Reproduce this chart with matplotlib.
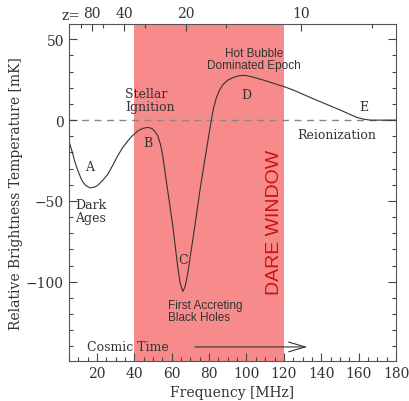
import numpy as np
import matplotlib
matplotlib.use("Agg")
import matplotlib.pyplot as plt
from matplotlib.ticker import MultipleLocator, FixedLocator

# Brightness temperature curve (MHz, mK)
freq = [4.6, 5.6, 6.9, 8.1, 9.6, 11.0, 12.2, 14.0, 16.4, 18.5, 20.3, 23.0,
        25.7, 28.4, 31.0, 33.7, 36.4, 39.1, 41.8, 44.5, 47.1, 49.3, 51.0,
        52.5, 54.0, 55.2, 57.0, 58.8, 60.6, 62.0, 63.2, 64.5, 65.9, 67.2,
        68.6, 69.9, 71.3, 73.1, 74.9, 76.7, 78.5, 79.9, 81.2, 82.4, 83.9,
        85.6, 87.5, 90.1, 92.8, 95.5, 98.1, 100.0, 103.5, 108.9, 114.3,
        119.6, 125.0, 130.4, 135.7, 141.1, 146.5, 151.8, 155.4, 159.0,
        162.6, 166.2, 180.0]
temp = [-10.9, -15.1, -20.2, -25.4, -30.6, -34.7, -37.8, -40.5, -41.9, -41.5,
        -40.5, -37.4, -33.7, -28.1, -22.3, -17.1, -13.0, -9.5, -6.8, -5.1,
        -4.5, -5.1, -7.0, -9.5, -15.0, -22.0, -36.8, -51.2, -65.7, -79.1,
        -90.5, -100.8, -106.0, -102.9, -94.6, -84.3, -74.0, -59.5, -45.0,
        -31.6, -19.0, -9.0, 0.0, 7.5, 13.9, 18.6, 22.1, 24.8, 26.3, 27.3,
        27.7, 27.5, 26.6, 24.8, 22.8, 20.9, 18.6, 15.9, 13.2, 10.6, 8.0,
        5.4, 3.5, 1.7, 0.6, 0.0, 0.0]

window = [40, 120]
z_major = [80, 40, 20, 10]
z_minor = [120, 60, 30, 15, 7.5]
nu21 = 1420.4

serif = "DejaVu Serif"
sans = "Liberation Sans"

fig = plt.figure(figsize=(4.10, 4.02), dpi=100)
ax = fig.add_axes([0.168, 0.0995, 0.798, 0.8385])

ax.axvspan(window[0], window[1], color="#f78b8b", lw=0, zorder=0)
ax.axhline(0, color="#888888", lw=1.0, ls=(0, (5, 4)), zorder=1)
ax.plot(freq, temp, color="#333333", lw=0.8, zorder=2)

ax.set_xlim(5, 180)
ax.set_ylim(-149, 59.5)
ax.xaxis.set_major_locator(MultipleLocator(20))
ax.xaxis.set_minor_locator(MultipleLocator(5))
ax.yaxis.set_major_locator(MultipleLocator(50))
ax.yaxis.set_minor_locator(MultipleLocator(10))
ax.tick_params(which="both", direction="in", top=False, right=True,
               color="#444444", labelsize=10, labelcolor="#333333", width=0.8)
ax.tick_params(which="major", length=6)
ax.tick_params(which="minor", length=3)
for lab in ax.get_xticklabels() + ax.get_yticklabels():
    lab.set_family(serif)
for s in ax.spines.values():
    s.set_color("#555555")
    s.set_linewidth(0.8)

ax.set_xlabel("Frequency [MHz]", family=serif, fontsize=10, color="#333333", labelpad=4)
ax.set_ylabel("Relative Brightness Temperature [mK]", family=serif, fontsize=10,
              color="#333333", labelpad=2)

# redshift axis on top
top = ax.twiny()
top.set_xlim(ax.get_xlim())
top.xaxis.set_major_locator(FixedLocator([nu21 / (1 + z) for z in z_major]))
top.xaxis.set_minor_locator(FixedLocator([nu21 / (1 + z) for z in z_minor]))
top.set_xticklabels([str(z) for z in z_major], family=serif, fontsize=10, color="#333333")
top.tick_params(which="both", direction="in", color="#444444", width=0.8, pad=3)
top.tick_params(which="major", length=5)
top.tick_params(which="minor", length=3)
for s in top.spines.values():
    s.set_visible(False)
fig.text(62 / 410, 1 - 16 / 402, "z=", family=serif, fontsize=10, color="#333333",
         ha="left", va="center")

tc = "#333333"
ax.text(35, 12.5, "Stellar\nIgnition", family=serif, fontsize=9, color=tc,
        ha="left", va="center", linespacing=1.0)
ax.text(104, 37.5, "Hot Bubble\nDominated Epoch", family=sans, fontsize=8.5, color=tc,
        ha="center", va="center", linespacing=1.0)
ax.text(100, 16, "D", family=serif, fontsize=9, color=tc, ha="center", va="center")
ax.text(162.6, 8.7, "E", family=serif, fontsize=9, color=tc, ha="center", va="center")
ax.text(148.3, -8.9, "Reionization", family=serif, fontsize=9, color=tc,
        ha="center", va="center")
ax.text(16.1, -29, "A", family=serif, fontsize=9, color=tc, ha="center", va="center")
ax.text(47.1, -14, "B", family=serif, fontsize=9, color=tc, ha="center", va="center")
ax.text(65.9, -86.4, "C", family=serif, fontsize=9, color=tc, ha="center", va="center")
ax.text(8.3, -56.4, "Dark\nAges", family=serif, fontsize=9, color=tc,
        ha="left", va="center", linespacing=1.0)
ax.text(57.9, -117.9, "First Accreting\nBlack Holes", family=sans, fontsize=8.5, color=tc,
        ha="left", va="center", linespacing=1.0)
ax.text(14.9, -140.3, "Cosmic Time", family=serif, fontsize=9, color=tc,
        ha="left", va="center")
ax.annotate("", xy=(134, -140.3), xytext=(71, -140.3),
            arrowprops=dict(arrowstyle="->,head_length=1.2,head_width=0.35",
                            color="#333333", lw=0.8))
ax.text(114.9, -62.6, "DARE WINDOW", family=sans, fontsize=14, color="#cc1111",
        rotation=90, ha="center", va="center")

fig.savefig("out.png", dpi=100)
